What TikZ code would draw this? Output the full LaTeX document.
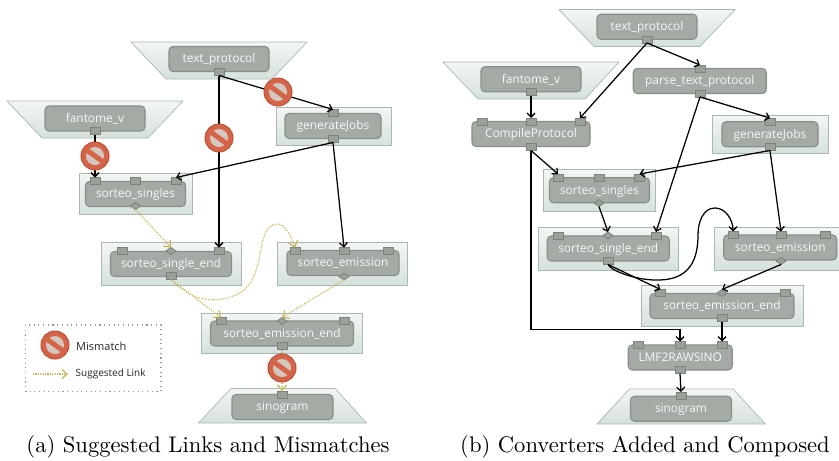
\documentclass[tikz,border=0pt]{standalone}
\usepackage{fontspec}
\newfontfamily\boxfont{Open Sans}
\usetikzlibrary{shapes.geometric,arrows.meta}
\definecolor{panelTop}{HTML}{F3F6F4}
\definecolor{panelBot}{HTML}{D6E1DB}
\definecolor{panelEdge}{HTML}{A9B9B2}
\definecolor{boxFill}{HTML}{A4ABA5}
\definecolor{boxEdge}{HTML}{878F89}
\definecolor{portFill}{HTML}{99A199}
\definecolor{portEdge}{HTML}{7B837D}
\definecolor{hintCol}{HTML}{C4B655}
\definecolor{stopRed}{HTML}{D5654A}
\definecolor{stopEdge}{HTML}{BC5238}
\definecolor{stopBar}{HTML}{D2C8BE}
\tikzset{
    panel/.style={draw=panelEdge,line width=0.7pt,top color=panelTop,bottom color=panelBot,minimum width=#1,inner sep=0pt,outer sep=0pt},
    tray/.style={draw=panelEdge,line width=0.7pt,top color=panelTop,bottom color=panelBot},
    modbox/.style={draw=boxEdge,line width=1.1pt,fill=boxFill,rounded corners=4pt,minimum height=25pt,minimum width=#1,inner sep=0pt,outer sep=0pt,text=white!92!boxFill,text height=8.5pt,text depth=1pt,font=\boxfont\fontsize{11.9}{12}\selectfont},
    port/.style={draw=portEdge,line width=0.8pt,fill=portFill,minimum width=10pt,minimum height=7pt,inner sep=0pt,outer sep=0pt},
    dport/.style={diamond,draw=portEdge,line width=0.8pt,fill=portFill,minimum width=10pt,minimum height=7pt,inner sep=0pt,outer sep=0pt},
    link/.style={draw=black,line width=1.25pt,-{Straight Barb[length=4pt,width=8pt]}},
    hint/.style={draw=hintCol,line width=1.2pt,dash pattern=on 1.1pt off 1.3pt,-{Straight Barb[length=5pt,width=9pt,line cap=round,sep=0pt]}},
    stopmark/.style={circle,draw=stopEdge,line width=1pt,fill=stopRed,minimum size=28pt,inner sep=0pt,path picture={
        \fill[stopBar] (path picture bounding box.center) circle (9pt);
        \draw[stopRed,line width=5pt] ([xshift=-11pt,yshift=8pt]path picture bounding box.center) -- ([xshift=11pt,yshift=-8pt]path picture bounding box.center);
    }},
    legtext/.style={anchor=west,inner sep=0pt,text=black!85,font=\boxfont\fontsize{#1}{11}\selectfont},
    caption/.style={inner sep=0pt,scale=2.26,font=\fontsize{10}{12}\selectfont}
}
\begin{document}
\begin{tikzpicture}[x=1pt,y=-1pt]
    \useasboundingbox (0,0) rectangle (839,461);
    % left picture
    \draw[tray] (131,42) -- (307,42) -- (272,79) -- (166,79) -- cycle;
    \draw[tray] (7,101) -- (183,101) -- (148,138) -- (42,138) -- cycle;
    \draw[tray] (231,388.5) -- (335,388.5) -- (366.5,423) -- (198.5,423) -- cycle;
    \node[panel=115pt,minimum height=38pt] (agenPanel) at (333.5,126) {};
    \node[panel=113pt,minimum height=41pt] (asinglesPanel) at (135.5,193.5) {};
    \node[panel=140pt,minimum height=42.5pt] (asingleEndPanel) at (171,263.75) {};
    \node[panel=130pt,minimum height=42.5pt] (aemisPanel) at (342.5,263.75) {};
    \node[panel=161pt,minimum height=40pt] (aemisEndPanel) at (281.5,333) {};
    \node[modbox=100pt] (atext) at (219,59) {text\_protocol};
    \node[modbox=100pt] (afant) at (95,118.5) {fantome\_v};
    \node[modbox=96pt] (agen) at (333,126) {generateJobs};
    \node[modbox=100pt] (asingles) at (135.5,194) {sorteo\_singles};
    \node[modbox=121pt] (asingleEnd) at (171,264) {sorteo\_single\_end};
    \node[modbox=112pt] (aemis) at (343,263) {sorteo\_emission};
    \node[modbox=143pt] (aemisEnd) at (282,333.5) {sorteo\_emission\_end};
    \node[modbox=101pt] (asino) at (282.5,407) {sinogram};
    \node[port] (atextOut) at (219,72) {};
    \node[port] (afantOut) at (95,131) {};
    \node[port] (agenIn) at (333,113) {};
    \node[port] (agenOut) at (333,139) {};
    \node[port] (asinglesA) at (95,181) {};
    \node[port] (asinglesB) at (135.5,181) {};
    \node[port] (asinglesC) at (176,181) {};
    \node[dport] (asinglesOut) at (135.5,206) {};
    \node[port] (asingleEndA) at (122,251) {};
    \node[dport] (asingleEndB) at (171,251) {};
    \node[port] (asingleEndC) at (219,251) {};
    \node[port] (asingleEndOut) at (171,276) {};
    \node[port] (aemisA) at (295,251) {};
    \node[port] (aemisB) at (344,251) {};
    \node[port] (aemisC) at (388,251) {};
    \node[dport] (aemisOut) at (344,276.5) {};
    \node[port] (aemisEndA) at (221,321) {};
    \node[dport] (aemisEndB) at (282,321) {};
    \node[port] (aemisEndC) at (344.5,321) {};
    \node[port] (aemisEndOut) at (282,346) {};
    \node[port] (asinoIn) at (282,394.5) {};
    \draw[link] (atextOut.south) -- (agenIn.north);
    \draw[link] (atextOut.south) -- (asingleEndC.north);
    \draw[link] (afantOut.south) -- (asinglesA.north);
    \draw[link] (agenOut.south) -- (asinglesC.north);
    \draw[link] (agenOut.south) -- (aemisB.north);
    \draw[hint] (asinglesOut.south) -- (asingleEndB.north);
    \draw[hint] (asingleEndOut.south) -- (aemisEndA.north);
    \draw[hint] (asingleEndOut.south) .. controls (190,300) and (215,306) .. (240,293) .. controls (268,276) and (254,225) .. (277,224) .. controls (285,224) and (291,235) .. (aemisA.north);
    \draw[hint] (aemisOut.south) -- (aemisEndB.north);
    \draw[hint] (aemisEndOut.south) -- (asinoIn.north);
    \node[stopmark] (astopA) at (278,92) {};
    \node[stopmark] (astopB) at (219,138) {};
    \node[stopmark] (astopC) at (95,156) {};
    \node[stopmark] (astopD) at (282,368) {};
    \draw[draw=black!40,line width=1.1pt,dash pattern=on 1.1pt off 3.6pt] (25.5,325) rectangle (161,391.5);
    \node[stopmark] (legStop) at (55,345) {};
    \node[legtext=11] (legStopText) at (76,346) {Mismatch};
    \coordinate (legFrom) at (33,374);
    \coordinate (legTo) at (68,374);
    \draw[hint] (legFrom) -- (legTo);
    \node[legtext=10] (legHintText) at (75.5,374) {Suggested Link};
    \node[caption] (acap) at (208,447) {(a) Suggested Links and Mismatches};
    % right picture
    \draw[tray] (559,9.5) -- (735,9.5) -- (700,46.5) -- (594,46.5) -- cycle;
    \draw[tray] (443,62) -- (619,62) -- (585,99) -- (478,99) -- cycle;
    \draw[tray] (629.5,389) -- (733,389) -- (765.5,424) -- (597,424) -- cycle;
    \node[panel=115.5pt,minimum height=38.5pt] (bgenPanel) at (770.25,134.25) {};
    \node[panel=112.5pt,minimum height=41.5pt] (bsinglesPanel) at (599.25,190.25) {};
    \node[panel=140.5pt,minimum height=43pt] (bsingleEndPanel) at (608.25,248.5) {};
    \node[panel=124.5pt,minimum height=43pt] (bemisPanel) at (776.75,248.5) {};
    \node[panel=162pt,minimum height=41.5pt] (bemisEndPanel) at (722,305.75) {};
    \node[modbox=100pt] (btext) at (647,26.75) {text\_protocol};
    \node[modbox=100pt] (bfant) at (531,79.25) {fantome\_v};
    \node[modbox=133pt] (bparse) at (699.75,81) {parse\_text\_protocol};
    \node[modbox=96pt] (bgen) at (770,134.25) {generateJobs};
    \node[modbox=118pt] (bcomp) at (531,134) {CompileProtocol};
    \node[modbox=100pt] (bsingles) at (599.5,190.25) {sorteo\_singles};
    \node[modbox=122pt] (bsingleEnd) at (608.25,248.5) {sorteo\_single\_end};
    \node[modbox=113pt] (bemis) at (780.25,247.5) {sorteo\_emission};
    \node[modbox=144pt] (bemisEnd) at (722,306) {sorteo\_emission\_end};
    \node[modbox=104pt] (blmf) at (680.25,357.5) {LMF2RAWSINO};
    \node[modbox=101pt] (bsino) at (681,408.75) {sinogram};
    \node[port] (btextOut) at (647,39.5) {};
    \node[port] (bfantOut) at (531,92) {};
    \node[port] (bparseIn) at (700,68.5) {};
    \node[port] (bparseOut) at (700,93.5) {};
    \node[port] (bgenIn) at (770,121.5) {};
    \node[port] (bgenOut) at (770,147) {};
    \node[port] (bcompA) at (482,121.5) {};
    \node[port] (bcompB) at (531,121.5) {};
    \node[port] (bcompC) at (580,121.5) {};
    \node[port] (bcompOut) at (531,147) {};
    \node[port] (bsinglesA) at (558,177.5) {};
    \node[port] (bsinglesB) at (599,177.5) {};
    \node[port] (bsinglesC) at (639.5,177.5) {};
    \node[dport] (bsinglesOut) at (599,203) {};
    \node[port] (bsingleEndA) at (558,235.5) {};
    \node[dport] (bsingleEndB) at (608,235.5) {};
    \node[port] (bsingleEndC) at (656,235.5) {};
    \node[port] (bsingleEndOut) at (608,261) {};
    \node[port] (bemisA) at (733,235) {};
    \node[port] (bemisB) at (781,235) {};
    \node[port] (bemisC) at (825,235) {};
    \node[dport] (bemisOut) at (781,261) {};
    \node[port] (bemisEndA) at (660.5,293) {};
    \node[dport] (bemisEndB) at (722,293) {};
    \node[port] (bemisEndC) at (785,293) {};
    \node[port] (bemisEndOut) at (722,318) {};
    \node[port] (blmfA) at (638.5,345) {};
    \node[port] (blmfB) at (680,345) {};
    \node[port] (blmfC) at (722,345) {};
    \node[port] (blmfOut) at (680,370) {};
    \node[port] (bsinoIn) at (681,395.5) {};
    \draw[link] (btextOut.south) -- (bparseIn.north);
    \draw[link] (btextOut.south) -- (bcompC.north);
    \draw[link] (bfantOut.south) -- (bcompB.north);
    \draw[link] (bparseOut.south) -- (bgenIn.north);
    \draw[link] (bparseOut.south) -- (bsingleEndC.north);
    \draw[link] (bgenOut.south) -- (bsinglesC.north);
    \draw[link] (bgenOut.south) -- (bemisB.north);
    \draw[link] (bcompOut.south) -- (bsinglesA.north);
    \draw[link] (bcompOut.south) |- (blmfB.north |- 0,329.5) -- (blmfB.north);
    \draw[link] (bsinglesOut.south) -- (bsingleEndB.north);
    \draw[link] (bsingleEndOut.south) -- (bemisEndA.north);
    \draw[link] (bsingleEndOut.south) .. controls (612,272) and (640,281) .. (660,280) .. controls (688,279) and (698,262) .. (698,235) .. controls (698,222) and (703,208) .. (715,208) .. controls (725,208) and (733,219) .. (bemisA.north);
    \draw[link] (bemisOut.south) -- (bemisEndB.north);
    \draw[link] (bemisEndOut.south) -- (blmfC.north);
    \draw[link] (blmfOut.south) -- (bsinoIn.north);
    \node[caption] (bcap) at (645,447) {(b) Converters Added and Composed};
\end{tikzpicture}
\end{document}
